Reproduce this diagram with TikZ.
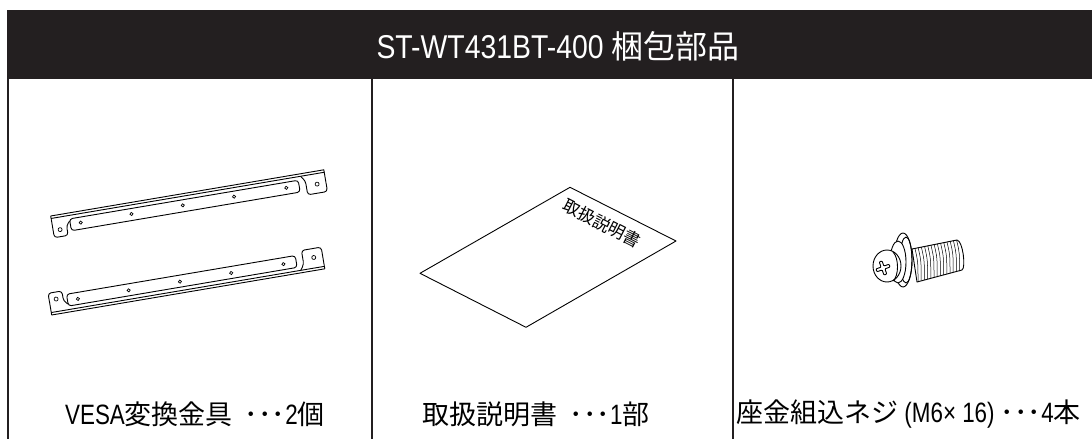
\documentclass[tikz,border=0pt]{standalone}
\usepackage{fontspec}
\setmainfont{Liberation Sans}[FakeStretch=0.86]
\newfontfamily\capfont{Liberation Sans}[FakeStretch=0.8]
\newfontfamily\jp{Noto Sans CJK JP}
\usetikzlibrary{positioning}
\definecolor{band}{HTML}{231F20}
\tikzstyle{rule}=[draw=band,line width=1.6pt]
\tikzstyle{part}=[draw=black,line width=0.9pt,line join=round]
\tikzstyle{hole}=[draw=black,line width=0.7pt,fill=white]
\tikzstyle{caption}=[inner sep=0pt,font=\capfont\fontsize{28}{30}\selectfont]
\newcommand{\jt}[1]{{\jp\fontsize{27}{30}\selectfont #1}}
% one VESA bar, drawn along its own axis
\newcommand{\vesabar}{
  \draw[part] (0,0) -- (277,0);
  \draw[part] (0,2.5) -- (277,2.5);
  \draw[part,rounded corners=3] (0,0) -- (0,22) -- (14,22) -- (14,12) -- (18,8);
  \draw[part,rounded corners=3] (18,6) rectangle (250,18);
  \draw[part,rounded corners=3] (253,2.5) -- (257,8) -- (257,22) -- (277,22) -- (277,0);
  \foreach \u in {28.5,80,132,184,237}
    \draw[hole] (\u,11.5) circle (1.6);
  \draw[hole] (7,15) circle (2);
  \draw[hole] (268,13) circle (2);
}
\begin{document}
\begin{tikzpicture}[x=1pt,y=-1pt]
  \useasboundingbox (0,0) rectangle (1092,439);
  % frame
  \fill[band] (7,10) rectangle (1092,79);
  \node[text=white,inner sep=0pt] (title) at (558,46)
    {\fontsize{33}{36}\selectfont ST-WT431BT-400 {\jp\fontsize{32}{34}\selectfont 梱包部品}};
  \draw[rule] (8,79) -- (8,439);
  \draw[rule] (372,79) -- (372,439);
  \draw[rule] (733,79) -- (733,439);

  % VESA bars
  \begin{scope}[shift={(50.7,216)},rotate=9.6]
    \vesabar
  \end{scope}
  \begin{scope}[shift={(51.7,315)},rotate=9.6,yscale=-1]
    \vesabar
  \end{scope}

  % manual
  \draw[part] (420,273.3) -- (570,187.3) -- (676,241) -- (526,327.3) -- cycle;
  \node[rotate=-27,inner sep=0pt] (manual) at (602,223.4) {\jp\fontsize{17}{18}\selectfont 取扱説明書};

  % screw
  \draw[part,fill=white] (912,249) -- (957,240) .. controls (963,241) and (966,268) .. (962,270) -- (917,282) -- cycle;
  \foreach \i in {0,...,13}
    \draw[black,line width=0.5pt] ({915+3.2*\i},{248.5-0.65*\i}) .. controls ({918+3.2*\i},{262-0.7*\i}) .. ({918+3.2*\i},{281.5-0.8*\i});
  \draw[part,fill=white] (903,260) ellipse [x radius=9,y radius=27];
  \draw[part] (906,260) ellipse [x radius=6,y radius=23];
  \draw[part,fill=white] (898,262) ellipse [x radius=8,y radius=21];
  \draw[part,fill=white] (887,266) ellipse [x radius=14,y radius=16];
  \draw[part] (893,252) .. controls (899,258) and (899,276) .. (893,281);
  \begin{scope}[shift={(883,268)},rotate=20]
    \draw[part,rounded corners=0.8] (-1.5,-7) -- (1.5,-7) -- (1.5,-1.5) -- (7,-1.5) -- (7,1.5) -- (1.5,1.5)
      -- (1.5,7) -- (-1.5,7) -- (-1.5,1.5) -- (-7,1.5) -- (-7,-1.5) -- (-1.5,-1.5) -- cycle;
  \end{scope}

  % captions
  \node[caption] (capA) at (195,414) {VESA\jt{変換金具\hspace{12pt}･･･}2\jt{個}};
  \node[caption] (capB) at (536,414) {\jt{取扱説明書\hspace{12pt}･･･}1\jt{部}};
  \node[caption,anchor=west] (capC) at (736,414) {\jt{座金組込ネジ} (M6× 16) \jt{･･･}4\jt{本}};
\end{tikzpicture}
\end{document}
